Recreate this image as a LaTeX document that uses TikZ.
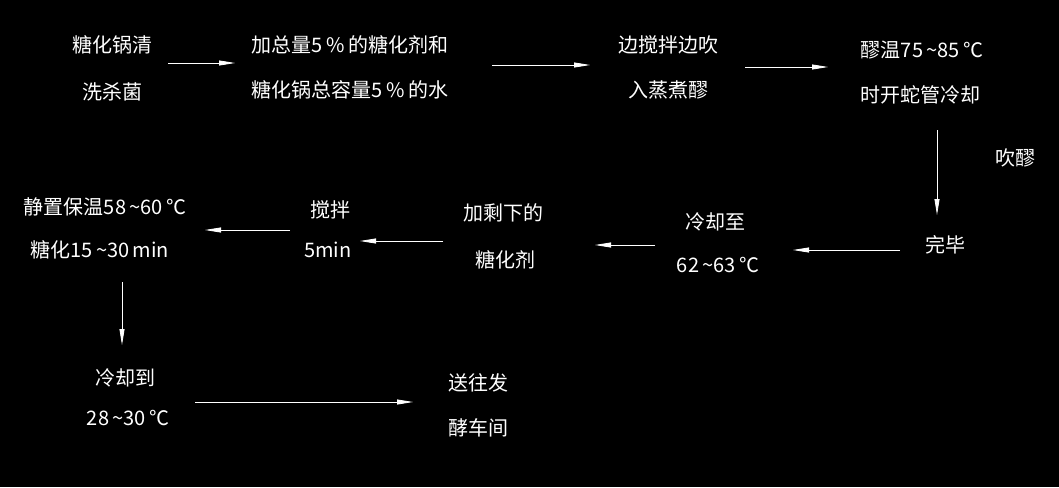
\documentclass[tikz,border=0pt]{standalone}
\usepackage{fontspec}
\setmainfont{Noto Sans CJK SC}
\usetikzlibrary{arrows.meta}
\begin{document}
\begin{tikzpicture}[x=1pt,y=-1pt,
  lbl/.style={text=white,font=\fontsize{20}{22}\selectfont,inner sep=0pt,align=center},
  arr/.style={draw=white,line width=0.8pt,-{Triangle[length=16pt,width=5pt]}}]
\fill[black] (0,0) rectangle (1059,487);
\useasboundingbox (0,0) rectangle (1059,487);
\node[lbl] (a1) at (112,45) {糖化锅清};
\node[lbl] (a2) at (112,92) {洗杀菌};
\node[lbl] (b1) at (350,45) {加总量5\,\%\,的糖化剂和};
\node[lbl] (b2) at (350,90) {糖化锅总容量5\,\%\,的水};
\node[lbl] (c1) at (668,45) {边搅拌边吹};
\node[lbl] (c2) at (668,90) {入蒸煮醪};
\node[lbl] (d1) at (922,50) {醪温75\,\textasciitilde85\,℃};
\node[lbl] (d2) at (920,95) {时开蛇管冷却};
\node[lbl] (d3) at (1015,158) {吹醪};
\node[lbl] (e) at (945,245) {完毕};
\node[lbl] (f1) at (715,222) {冷却至};
\node[lbl] (f2) at (718,265) {62\,\textasciitilde63\,℃};
\node[lbl] (g1) at (503,213) {加剩下的};
\node[lbl] (g2) at (505,260) {糖化剂};
\node[lbl] (h1) at (330,210) {搅拌};
\node[lbl] (h2) at (328,250) {5min};
\node[lbl] (i1) at (105,207) {静置保温58\,\textasciitilde60\,℃};
\node[lbl] (i2) at (100,250) {糖化15\,\textasciitilde30\,min};
\node[lbl] (j1) at (125,378) {冷却到};
\node[lbl] (j2) at (128,418) {28\,\textasciitilde30\,℃};
\node[lbl] (k1) at (478,383) {送往发};
\node[lbl] (k2) at (478,428) {酵车间};
\coordinate (p1) at (168,63); \coordinate (p2) at (235,63);
\coordinate (p3) at (492,65); \coordinate (p4) at (590,65);
\coordinate (p5) at (745,67); \coordinate (p6) at (828,67);
\coordinate (p7) at (937,130); \coordinate (p8) at (937,215);
\coordinate (p9) at (900,250); \coordinate (p10) at (793,250);
\coordinate (p11) at (655,245); \coordinate (p12) at (595,245);
\coordinate (p13) at (443,241); \coordinate (p14) at (360,241);
\coordinate (p15) at (290,230); \coordinate (p16) at (205,230);
\coordinate (p17) at (122,282); \coordinate (p18) at (122,345);
\coordinate (p19) at (195,402); \coordinate (p20) at (413,402);
\foreach \s/\t in {p1/p2,p3/p4,p5/p6,p7/p8,p9/p10,p11/p12,p13/p14,p15/p16,p17/p18,p19/p20}
  \draw[arr] (\s) -- (\t);
\end{tikzpicture}
\end{document}
